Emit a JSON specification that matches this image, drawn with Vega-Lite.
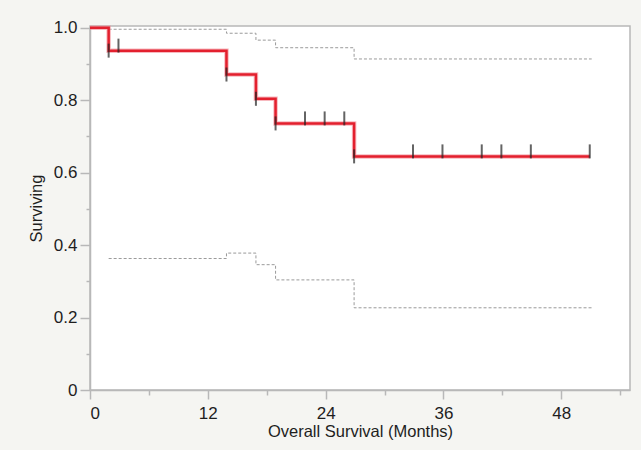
{
  "$schema": "https://vega.github.io/schema/vega-lite/v6.json",
  "width": 540,
  "height": 364,
  "autosize": {"type": "none"},
  "padding": {"left": 90, "top": 26, "right": 11, "bottom": 60},
  "background": "#f5f5f2",
  "config": {
    "view": {"stroke": "#b8b8b8", "strokeWidth": 1.5, "fill": "white"},
    "font": "Liberation Sans",
    "axis": {
      "labelFont": "Liberation Sans",
      "titleFont": "Liberation Sans",
      "titleFontWeight": "normal",
      "labelColor": "#1e1e1e",
      "titleColor": "#1e1e1e",
      "domainColor": "#b8b8b8",
      "domainWidth": 1.5,
      "tickColor": "#b8b8b8",
      "tickWidth": 1.5,
      "grid": false
    }
  },
  "datasets": {
    "curves": [
      {"time": 0, "value": 1.0, "series": "Survival"},
      {"time": 1.9, "value": 0.937, "series": "Survival"},
      {"time": 13.9, "value": 0.871, "series": "Survival"},
      {"time": 16.9, "value": 0.804, "series": "Survival"},
      {"time": 18.9, "value": 0.736, "series": "Survival"},
      {"time": 26.9, "value": 0.645, "series": "Survival"},
      {"time": 50.9, "value": 0.645, "series": "Survival"},
      {"time": 1.9, "value": 0.996, "series": "Upper"},
      {"time": 13.9, "value": 0.985, "series": "Upper"},
      {"time": 16.9, "value": 0.966, "series": "Upper"},
      {"time": 18.9, "value": 0.945, "series": "Upper"},
      {"time": 26.9, "value": 0.914, "series": "Upper"},
      {"time": 51.1, "value": 0.914, "series": "Upper"},
      {"time": 1.9, "value": 0.363, "series": "Lower"},
      {"time": 13.9, "value": 0.378, "series": "Lower"},
      {"time": 16.9, "value": 0.346, "series": "Lower"},
      {"time": 18.9, "value": 0.304, "series": "Lower"},
      {"time": 26.9, "value": 0.227, "series": "Lower"},
      {"time": 51.1, "value": 0.227, "series": "Lower"}
    ],
    "marks": [
      {"time": 1.9, "value": 0.937, "kind": "event"},
      {"time": 13.9, "value": 0.871, "kind": "event"},
      {"time": 16.9, "value": 0.804, "kind": "event"},
      {"time": 18.9, "value": 0.736, "kind": "event"},
      {"time": 26.9, "value": 0.645, "kind": "event"},
      {"time": 2.9, "value": 0.937, "kind": "censor"},
      {"time": 21.9, "value": 0.736, "kind": "censor"},
      {"time": 23.9, "value": 0.736, "kind": "censor"},
      {"time": 25.9, "value": 0.736, "kind": "censor"},
      {"time": 32.9, "value": 0.645, "kind": "censor"},
      {"time": 35.9, "value": 0.645, "kind": "censor"},
      {"time": 39.9, "value": 0.645, "kind": "censor"},
      {"time": 41.9, "value": 0.645, "kind": "censor"},
      {"time": 44.9, "value": 0.645, "kind": "censor"},
      {"time": 50.9, "value": 0.645, "kind": "censor"}
    ]
  },
  "encoding": {
    "x": {
      "field": "time",
      "type": "quantitative",
      "scale": {"domain": [0, 55], "nice": false, "zero": false},
      "axis": {
        "title": "Overall Survival (Months)",
        "titleFontSize": 16.5,
        "labelFontSize": 17,
        "values": [0, 6, 12, 18, 24, 30, 36, 42, 48, 54],
        "labelExpr": "datum.value % 12 == 0 ? datum.label : ''",
        "tickSize": {"condition": {"test": "datum.value % 12 != 0", "value": 5}, "value": 9},
        "labelPadding": 6,
        "titlePadding": 2
      }
    },
    "y": {
      "field": "value",
      "type": "quantitative",
      "scale": {"domain": [0, 1.005], "nice": false},
      "axis": {
        "title": "Surviving",
        "titleFontSize": 16.5,
        "labelFontSize": 17,
        "values": [0, 0.1, 0.2, 0.3, 0.4, 0.5, 0.6, 0.7, 0.8, 0.9, 1.0],
        "labelExpr": "round(datum.value * 10) % 2 == 1 ? '' : (datum.value == 0 ? '0' : format(datum.value, '.1f'))",
        "tickSize": {"condition": {"test": "round(datum.value * 10) % 2 == 1", "value": 4}, "value": 10},
        "labelPadding": 3,
        "titlePadding": 9
      }
    }
  },
  "layer": [
    {
      "data": {"name": "curves"},
      "transform": [{"filter": "datum.series != 'Survival'"}],
      "mark": {"type": "line", "interpolate": "step-after", "color": "#9a9a9a", "strokeWidth": 1, "strokeDash": [3, 2]},
      "encoding": {"detail": {"field": "series"}}
    },
    {
      "data": {"name": "curves"},
      "transform": [{"filter": "datum.series == 'Survival'"}],
      "mark": {"type": "line", "interpolate": "step-after", "color": "#f28a94", "strokeWidth": 4.5, "opacity": 0.6},
      "encoding": {}
    },
    {
      "data": {"name": "curves"},
      "transform": [{"filter": "datum.series == 'Survival'"}],
      "mark": {"type": "line", "interpolate": "step-after", "color": "#e3202e", "strokeWidth": 2.5},
      "encoding": {}
    },
    {
      "data": {"name": "marks"},
      "transform": [{"filter": "datum.kind == 'event'"}],
      "mark": {"type": "tick", "orient": "vertical", "color": "#222", "size": 14, "thickness": 2},
      "encoding": {}
    },
    {
      "data": {"name": "marks"},
      "transform": [{"filter": "datum.kind == 'censor'"}],
      "mark": {"type": "tick", "orient": "vertical", "color": "#222", "size": 14, "thickness": 2, "yOffset": -5},
      "encoding": {}
    }
  ]
}
